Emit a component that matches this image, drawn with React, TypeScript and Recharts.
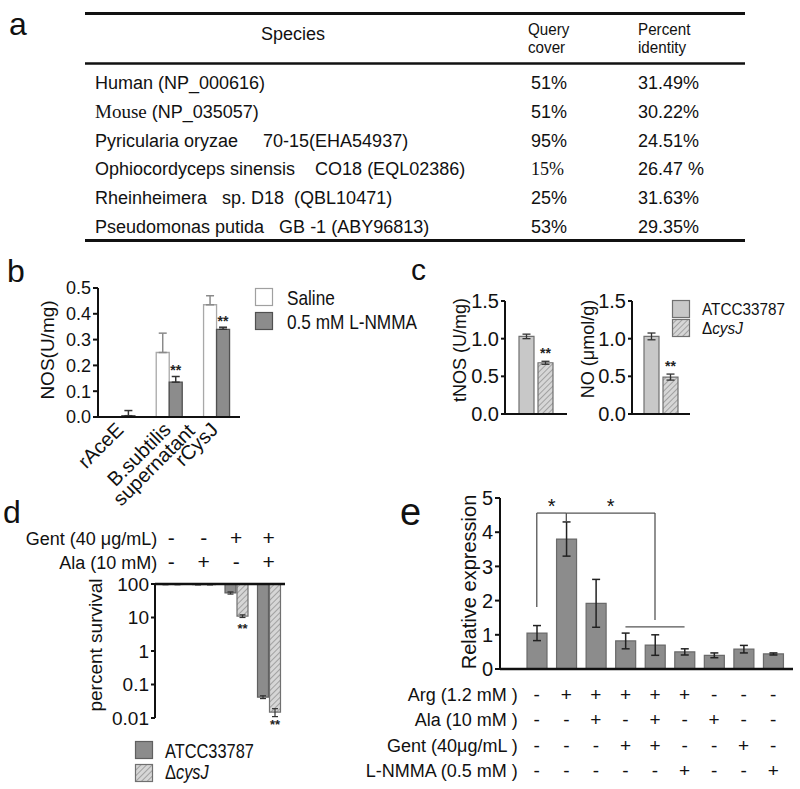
import React from 'react';
import { BarChart, Bar, XAxis, YAxis, ErrorBar, ReferenceLine, LabelList } from 'recharts';

const FONT = '"Liberation Sans", Arial, Helvetica, sans-serif';
const SERIF = '"Liberation Serif", "Times New Roman", serif';
const INK = '#111';

// ---------- Panel a (table) ----------
const tableSpecies = [
  'Human (NP_000616)',
  'Mouse (NP_035057)',
  'Pyricularia oryzae     70-15(EHA54937)',
  'Ophiocordyceps sinensis    CO18 (EQL02386)',
  'Rheinheimera   sp. D18  (QBL10471)',
  'Pseudomonas putida   GB -1 (ABY96813)',
];
const tableCover = ['51%', '51%', '95%', '15%', '25%', '53%'];
const tableIdentity = ['31.49%', '30.22%', '24.51%', '26.47 %', '31.63%', '29.35%'];

// ---------- Panel b ----------
const bCategories = ['rAceE', 'B.subtilis|supernatant', 'rCysJ'];
const bSaline = [0.0, 0.25, 0.435];
const bSalineErr = [0.06, 0.075, 0.035];
const bNMMA = [0.005, 0.135, 0.34];
const bNMMAErr = [0.02, 0.022, 0.008];
const bSig = ['', '**', '**'];

// ---------- Panel c ----------
const cMeasures = ['tNOS (U/mg)', 'NO (\u03bcmol/g)'];
const cATCC = [1.03, 1.03];
const cATCCErr = [0.03, 0.045];
const cCysJ = [0.68, 0.49];
const cCysJErr = [0.02, 0.04];
const cSig = ['**', '**'];
const cTicks = [0, 0.5, 1.0, 1.5];

// ---------- Panel d ----------
const dCategories = ['g1', 'g2', 'g3', 'g4'];
const dGent = ['-', '-', '+', '+'];
const dAla = ['-', '+', '-', '+'];
const dATCC = [97, 96, 54, 0.042];
const dATCCErr = [2, 2, 4, 0.004];
const dCysJ = [97, 96, 11, 0.015];
const dCysJErr = [2, 2, 1, 0.004];
const dSig = ['', '', '**', '**'];
const dTicks = [0.01, 0.1, 1, 10, 100];

// ---------- Panel e ----------
const eCategories = ['c1', 'c2', 'c3', 'c4', 'c5', 'c6', 'c7', 'c8', 'c9'];
const eValues = [1.05, 3.8, 1.92, 0.82, 0.7, 0.5, 0.4, 0.58, 0.44];
const eErr = [0.22, 0.5, 0.7, 0.23, 0.3, 0.09, 0.07, 0.11, 0.03];
const eArg = ['-', '+', '+', '+', '+', '+', '-', '-', '-'];
const eAla = ['-', '-', '+', '-', '+', '-', '+', '-', '-'];
const eGent = ['-', '-', '-', '+', '+', '-', '-', '+', '-'];
const eNMMA = ['-', '-', '-', '-', '-', '+', '-', '-', '+'];
const eRowLabels = ['Arg (1.2 mM )', 'Ala (10 mM )', 'Gent (40\u03bcg/mL )', 'L-NMMA (0.5 mM )'];
// bracket segments: [x1, y1, x2, y2, label]
const eBrackets: [string, number, string, number, string][] = [
  ['c1', 1.81, 'c1', 4.56, ''],
  ['c1', 4.56, 'c2', 4.56, '*'],
  ['c2', 4.56, 'c2', 4.3, ''],
  ['c2', 4.56, 'c5', 4.56, '*'],
  ['c5', 4.56, 'c5', 1.43, ''],
  ['c4', 1.23, 'c6', 1.23, ''],
];

function frame(pl: number, pt: number, pr: number, pb: number, yw: number, xh: number, xTop = false) {
  const mt = 10, mr = 12, mb = 10;
  const width = yw + (pr - pl) + mr;
  if (!xTop) {
    return { left: pl - yw, top: pt - mt, width, height: mt + (pb - pt) + xh, margin: { top: mt, right: mr, left: 0, bottom: 0 } };
  }
  return { left: pl - yw, top: pt - xh - mt, width, height: mt + xh + (pb - pt) + mb, margin: { top: mt, right: mr, left: 0, bottom: mb } };
}

const sigAbove = (vals: number[], errs: number[], size = 14, gap = 1) => (p: any) => {
  const value = p.value;
  if (!value) return null;
  const vb = p.viewBox ?? p;
  const idx = p.index ?? 0;
  const v = vals[idx];
  const e = errs[idx];
  const top = Math.min(vb.y, vb.y + vb.height);
  const h = Math.abs(vb.height);
  const errPx = v ? (h * e) / v : 0;
  return (
    <text x={vb.x + vb.width / 2} y={top - errPx - gap} textAnchor="middle" fontSize={size} fontWeight="bold" fill="#222" fontFamily={FONT}>
      {value}
    </text>
  );
};

const sigBelow = (p: any) => {
  const value = p.value;
  if (!value) return null;
  const vb = p.viewBox ?? p;
  const bottom = Math.max(vb.y, vb.y + vb.height);
  return (
    <text x={vb.x + vb.width / 2} y={bottom + 17} textAnchor="middle" fontSize={13} fontWeight="bold" fill="#222" fontFamily={FONT}>
      {value}
    </text>
  );
};

const BTick = (props: any) => {
  const { x, y, payload } = props;
  const lines = String(payload.value).split('|');
  return (
    <g transform={`translate(${x + 3},${y + 14}) rotate(-45)`}>
      <text textAnchor="end" fontSize={20} fontFamily={FONT} fill={INK}>
        {lines.map((l, i) => (
          <tspan key={i} x={i * 16} dy={i ? 18 : 0}>
            {l}
          </tspan>
        ))}
      </text>
    </g>
  );
};

const DTick = (props: any) => {
  const { x, y, index } = props;
  return (
    <g fontFamily={FONT} fill={INK}>
      <text x={x} y={y - 39} textAnchor="middle" fontSize={21}>{dGent[index]}</text>
      <text x={x} y={y - 15} textAnchor="middle" fontSize={21}>{dAla[index]}</text>
      {index === 0 && (
        <>
          <text x={x - 14} y={y - 39} textAnchor="end" fontSize={18}>Gent (40 {'\u03bc'}g/mL)</text>
          <text x={x - 14} y={y - 15} textAnchor="end" fontSize={18}>Ala (10 mM)</text>
        </>
      )}
    </g>
  );
};

const eRows = [eArg, eAla, eGent, eNMMA];
const ETick = (props: any) => {
  const { x, y, index } = props;
  return (
    <g fontFamily={FONT} fill={INK}>
      {eRows.map((row, r) => (
        <text key={r} x={x} y={y + 32 + r * 25.3} textAnchor="middle" fontSize={19}>{row[index]}</text>
      ))}
      {index === 0 &&
        eRowLabels.map((l, r) => (
          <text key={'l' + r} x={x - 19} y={y + 32 + r * 25.3} textAnchor="end" fontSize={18} style={{ whiteSpace: 'pre' }}>{l}</text>
        ))}
    </g>
  );
};

const axisStyle = { stroke: INK, strokeWidth: 2 };
const tickFont = (size: number) => ({ fontSize: size, fill: INK, fontFamily: FONT });

function PanelB() {
  const data = bCategories.map((c, i) => ({
    cat: c,
    saline: bSaline[i],
    salineErr: [0, bSalineErr[i]],
    nmma: bNMMA[i],
    nmmaErr: [0, bNMMAErr[i]],
    sig: bSig[i],
  }));
  const f = frame(98, 288, 240, 417, 60, 90);
  return (
    <div style={{ position: 'absolute', left: f.left, top: f.top }}>
      <BarChart width={f.width} height={f.height} data={data} margin={f.margin} barCategoryGap="23%" barGap={0}>
        <XAxis dataKey="cat" tick={<BTick />} tickLine={false} tickSize={0} tickMargin={0} axisLine={axisStyle} height={90} interval={0} />
        <YAxis domain={[0, 0.5]} ticks={[0, 0.1, 0.2, 0.3, 0.4, 0.5]} interval={0} tickFormatter={(v: number) => v.toFixed(1)} width={60} tick={tickFont(18)} tickSize={5} tickMargin={2} axisLine={axisStyle} tickLine={axisStyle} allowDataOverflow />
        <Bar dataKey="saline" fill="#ffffff" stroke="#a8a8a8" strokeWidth={1.3} isAnimationActive={false}>
          <ErrorBar dataKey="salineErr" width={4} stroke="#8a8a8a" strokeWidth={1.5} direction="y" />
        </Bar>
        <Bar dataKey="nmma" fill="#8c8c8c" stroke="#505050" strokeWidth={1.3} isAnimationActive={false}>
          <ErrorBar dataKey="nmmaErr" width={4} stroke="#333" strokeWidth={1.5} direction="y" />
          <LabelList dataKey="sig" content={sigAbove(bNMMA, bNMMAErr, 14, 1)} />
        </Bar>
      </BarChart>
    </div>
  );
}

function PanelCChart({ idx, pl, pr }: { idx: number; pl: number; pr: number }) {
  const data = [
    {
      cat: cMeasures[idx],
      atcc: cATCC[idx],
      atccErr: cATCCErr[idx],
      cys: cCysJ[idx],
      cysErr: cCysJErr[idx],
      sig: cSig[idx],
    },
  ];
  const f = frame(pl, 301, pr, 414, 50, 10);
  return (
    <div style={{ position: 'absolute', left: f.left, top: f.top }}>
      <BarChart width={f.width} height={f.height} data={data} margin={f.margin} barSize={15} barGap={4}>
        <XAxis dataKey="cat" tick={false} tickLine={false} axisLine={axisStyle} height={10} />
        <YAxis domain={[0, 1.5]} ticks={cTicks} interval={0} tickFormatter={(v: number) => v.toFixed(1)} width={50} tick={tickFont(20)} tickSize={4} tickMargin={2} axisLine={axisStyle} tickLine={axisStyle} allowDataOverflow />
        <Bar dataKey="atcc" fill="#c8c8c8" stroke="#707070" strokeWidth={1.2} isAnimationActive={false}>
          <ErrorBar dataKey="atccErr" width={4} stroke="#333" strokeWidth={1.3} direction="y" />
        </Bar>
        <Bar dataKey="cys" fill="url(#hatch)" stroke="#707070" strokeWidth={1.2} isAnimationActive={false}>
          <ErrorBar dataKey="cysErr" width={4} stroke="#333" strokeWidth={1.3} direction="y" />
          <LabelList dataKey="sig" content={sigAbove([cCysJ[idx]], [cCysJErr[idx]], 14, 3)} />
        </Bar>
      </BarChart>
    </div>
  );
}

function PanelD() {
  const data = dCategories.map((c, i) => ({
    cat: c,
    atcc: [100, dATCC[i]],
    atccErr: [dATCCErr[i], dATCCErr[i]],
    cys: [100, dCysJ[i]],
    cysErr: [dCysJErr[i], dCysJErr[i]],
    sig: dSig[i],
  }));
  const f = frame(155, 584, 285, 718, 60, 60, true);
  return (
    <div style={{ position: 'absolute', left: f.left, top: f.top }}>
      <BarChart width={f.width} height={f.height} data={data} margin={f.margin} barSize={11} barGap={1}>
        <XAxis dataKey="cat" orientation="top" tick={<DTick />} tickLine={false} tickSize={0} tickMargin={0} axisLine={{ stroke: INK, strokeWidth: 2.5 }} height={60} interval={0} />
        <YAxis scale="log" type="number" domain={[0.01, 100]} ticks={dTicks} interval={0} tickFormatter={(v: number) => String(v)} width={60} tick={tickFont(19)} tickSize={4} tickMargin={2} axisLine={axisStyle} tickLine={axisStyle} allowDataOverflow />
        <Bar dataKey="atcc" fill="#8c8c8c" stroke="#606060" strokeWidth={1.2} isAnimationActive={false}>
          <ErrorBar dataKey="atccErr" width={3} stroke="#333" strokeWidth={1.2} direction="y" />
        </Bar>
        <Bar dataKey="cys" fill="url(#hatch)" stroke="#707070" strokeWidth={1.2} isAnimationActive={false}>
          <ErrorBar dataKey="cysErr" width={3} stroke="#333" strokeWidth={1.2} direction="y" />
          <LabelList dataKey="sig" content={sigBelow} />
        </Bar>
      </BarChart>
    </div>
  );
}

function PanelE() {
  const data = eCategories.map((c, i) => ({ cat: c, v: eValues[i], err: eErr[i] }));
  const f = frame(500, 498, 793, 669, 60, 115);
  return (
    <div style={{ position: 'absolute', left: f.left, top: f.top }}>
      <BarChart width={f.width} height={f.height} data={data} margin={f.margin} barSize={20}>
        <XAxis dataKey="cat" padding={{ left: 22, right: 5 }} tick={<ETick />} tickLine={false} tickSize={0} tickMargin={0} axisLine={{ stroke: INK, strokeWidth: 2.5 }} height={115} interval={0} />
        <YAxis domain={[0, 5]} ticks={[0, 1, 2, 3, 4, 5]} interval={0} width={60} tick={tickFont(20)} tickSize={5} tickMargin={2} axisLine={axisStyle} tickLine={axisStyle} allowDataOverflow />
        <Bar dataKey="v" fill="#8c8c8c" stroke="#6a6a6a" strokeWidth={1.2} isAnimationActive={false}>
          <ErrorBar dataKey="err" width={4} stroke="#222" strokeWidth={1.5} direction="y" />
        </Bar>
        {eBrackets.map(([x1, y1, x2, y2, lab], i) => (
          <ReferenceLine
            key={i}
            segment={[{ x: x1, y: y1 }, { x: x2, y: y2 }]}
            stroke="#555"
            strokeWidth={1.3}
            ifOverflow="visible"
            label={lab ? { value: lab, position: 'top', fontSize: 20, fill: '#111', fontFamily: FONT, offset: 0 } : undefined}
          />
        ))}
      </BarChart>
    </div>
  );
}

// condensed text (the figure's legend font is a narrow sans)
const NText = ({ x, y, size, children, sx = 0.82 }: any) => (
  <text transform={`translate(${x},${y}) scale(${sx},1)`} fontSize={size}>
    {children}
  </text>
);

function Overlay() {
  const rowBase = [89, 118, 147, 175, 204, 233];
  return (
    <svg width={800} height={789} style={{ position: 'absolute', left: 0, top: 0 }} fontFamily={FONT} fill={INK}>
      <defs>
        <pattern id="hatch" patternUnits="userSpaceOnUse" width={4} height={4} patternTransform="rotate(45)">
          <rect width={4} height={4} fill="#d6d6d6" />
          <line x1={0} y1={0} x2={0} y2={4} stroke="#8a8a8a" strokeWidth={1.4} />
        </pattern>
      </defs>
      {/* panel letters */}
      <text x={9} y={35} fontSize={32}>a</text>
      <text x={7} y={282} fontSize={32}>b</text>
      <text x={411} y={280} fontSize={30}>c</text>
      <text x={3} y={523} fontSize={32}>d</text>
      <text x={400} y={525} fontSize={38}>e</text>

      {/* table */}
      <line x1={85} x2={745} y1={13.5} y2={13.5} stroke={INK} strokeWidth={3} />
      <line x1={85} x2={745} y1={63.5} y2={63.5} stroke={INK} strokeWidth={2.5} />
      <line x1={85} x2={745} y1={240.5} y2={240.5} stroke={INK} strokeWidth={3} />
      <text x={293} y={40} fontSize={18} textAnchor="middle">Species</text>
      <NText x={528} y={35} size={16} sx={0.95}>Query</NText>
      <NText x={528} y={53} size={16} sx={0.95}>cover</NText>
      <NText x={638} y={35} size={16} sx={0.95}>Percent</NText>
      <NText x={638} y={53} size={16} sx={0.95}>identity</NText>
      {tableSpecies.map((s, i) => {
        const serifFirst = s.startsWith('Mouse');
        const sp = s.indexOf(' ');
        return (
          <text key={'s' + i} x={95} y={rowBase[i]} fontSize={18} style={{ whiteSpace: 'pre' }}>
            {serifFirst ? (
              <>
                <tspan fontFamily={SERIF} fontSize={19}>{s.slice(0, sp)}</tspan>
                <tspan>{s.slice(sp)}</tspan>
              </>
            ) : (
              s
            )}
          </text>
        );
      })}
      {tableCover.map((c, i) => (
        <text key={'c' + i} x={531} y={rowBase[i]} fontSize={18} fontFamily={i === 3 ? SERIF : FONT}>{c}</text>
      ))}
      {tableIdentity.map((c, i) => (
        <text key={'p' + i} x={638} y={rowBase[i]} fontSize={18} style={{ whiteSpace: 'pre' }}>{c}</text>
      ))}

      {/* panel b legend + y label */}
      <rect x={255.5} y={288.5} width={17} height={17} fill="#fff" stroke="#a0a0a0" strokeWidth={1.2} />
      <rect x={255.5} y={312.5} width={17} height={17} fill="#8c8c8c" stroke="#505050" strokeWidth={1.2} />
      <NText x={287} y={305} size={21}>Saline</NText>
      <NText x={287} y={329} size={21}>0.5 mM L-NMMA</NText>
      <text transform="translate(54,350) rotate(-90)" textAnchor="middle" fontSize={19}>NOS(U/mg)</text>

      {/* panel c legend + y labels */}
      <rect x={672.5} y={300.5} width={17} height={17} fill="#c8c8c8" stroke="#707070" strokeWidth={1.2} />
      <rect x={672.5} y={319.5} width={17} height={17} fill="url(#hatch)" stroke="#707070" strokeWidth={1.2} />
      <NText x={702} y={315} size={17} sx={0.9}>ATCC33787</NText>
      <NText x={702} y={334} size={17} sx={0.9}>{'\u0394'}<tspan fontStyle="italic">cysJ</tspan></NText>
      <text transform="translate(466,350) rotate(-90)" textAnchor="middle" fontSize={18}>{cMeasures[0]}</text>
      <text transform="translate(594,349) rotate(-90)" textAnchor="middle" fontSize={18}>{cMeasures[1]}</text>

      {/* panel d legend + y label */}
      <rect x={135.5} y={741.5} width={17} height={17} fill="#8c8c8c" stroke="#606060" strokeWidth={1.2} />
      <rect x={135.5} y={764.5} width={17} height={17} fill="url(#hatch)" stroke="#707070" strokeWidth={1.2} />
      <NText x={165} y={758} size={20}>ATCC33787</NText>
      <NText x={165} y={779} size={20}>{'\u0394'}<tspan fontStyle="italic">cysJ</tspan></NText>
      <text transform="translate(102,645) rotate(-90)" textAnchor="middle" fontSize={19}>percent survival</text>

      {/* panel e y label */}
      <text transform="translate(476,582) rotate(-90)" textAnchor="middle" fontSize={20}>Relative expression</text>
    </svg>
  );
}

export default function App() {
  return (
    <div style={{ position: 'absolute', left: 0, top: 0, width: 800, height: 789, background: '#fff', overflow: 'hidden', fontFamily: FONT }}>
      <style>{`.recharts-surface{overflow:visible}`}</style>
      <Overlay />
      <PanelB />
      <PanelCChart idx={0} pl={505} pr={567} />
      <PanelCChart idx={1} pl={632} pr={690} />
      <PanelD />
      <PanelE />
    </div>
  );
}
